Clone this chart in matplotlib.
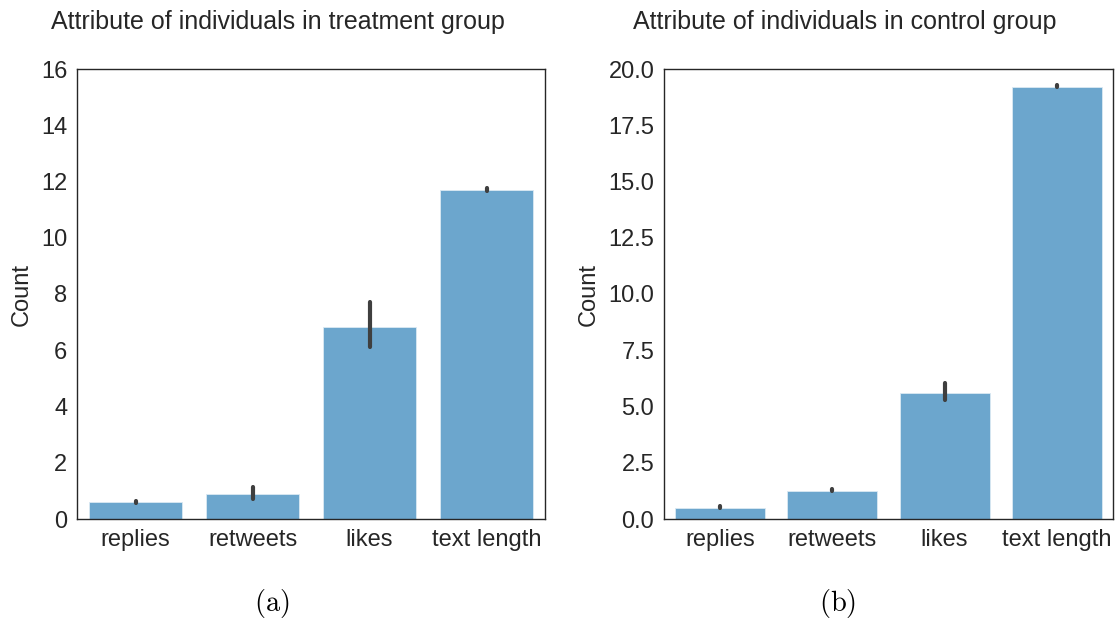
import matplotlib
matplotlib.use("Agg")
import matplotlib.pyplot as plt
import numpy as np

# categories and values
categories = ["replies", "retweets", "likes", "text length"]

treat_mean = [0.59, 0.88, 6.83, 11.70]
treat_lo = [0.57, 0.72, 6.13, 11.68]
treat_hi = [0.65, 1.15, 7.72, 11.76]

ctrl_mean = [0.50, 1.23, 5.60, 19.20]
ctrl_lo = [0.51, 1.24, 5.27, 19.22]
ctrl_hi = [0.58, 1.33, 6.05, 19.29]

treat_ticks = [0, 2, 4, 6, 8, 10, 12, 14, 16]
ctrl_ticks = [0.0, 2.5, 5.0, 7.5, 10.0, 12.5, 15.0, 17.5, 20.0]

plt.rcParams['font.family'] = ['Liberation Sans', 'DejaVu Sans']
plt.rcParams['mathtext.fontset'] = 'cm'
plt.rcParams['text.color'] = '.15'
plt.rcParams['axes.labelcolor'] = '.15'
plt.rcParams['xtick.color'] = '.15'
plt.rcParams['ytick.color'] = '.15'

bar_color = '#6CA6CD'
err_color = '#3f3f3f'

W, H = 1115, 619
fig = plt.figure(figsize=(W / 100, H / 100), dpi=100)
ax1 = fig.add_axes([77 / W, 1 - 519 / H, 468 / W, 450 / H])
ax2 = fig.add_axes([664 / W, 1 - 519 / H, 449 / W, 450 / H])


def draw_panel(ax, means, lo, hi, ticks, title, title_x, caption, cap_x):
    x = np.arange(len(categories))
    ax.bar(x, means, width=0.8, color=bar_color, edgecolor='#dbe9f3', linewidth=0.6)
    for xi, l, h in zip(x, lo, hi):
        ax.plot([xi, xi], [l, h], color=err_color, lw=3.0, solid_capstyle='round')
    ax.set_xlim(-0.5, len(categories) - 0.5)
    ax.set_ylim(ticks[0], ticks[-1])
    ax.set_yticks(ticks)
    if isinstance(ticks[1], float):
        ax.set_yticklabels(["%.1f" % t for t in ticks])
    ax.set_xticks(x)
    ax.set_xticklabels(categories)
    ax.tick_params(axis='both', length=0, labelsize=17, pad=7)
    ax.set_ylabel("Count", fontsize=17)
    for s in ax.spines.values():
        s.set_color('.15')
        s.set_linewidth(1.0)
    # titles and captions sit centred on the whole panel, not on the axes
    fig.text(title_x / W, 1 - 22 / H, title, ha='center', va='center', fontsize=18)
    fig.text(cap_x / W, 1 - 604 / H, caption, ha='center', va='center',
             fontsize=20.5, color='black')


draw_panel(ax1, treat_mean, treat_lo, treat_hi, treat_ticks,
           "Attribute of individuals in treatment group", 278, r"$\mathrm{(a)}$", 272)
draw_panel(ax2, ctrl_mean, ctrl_lo, ctrl_hi, ctrl_ticks,
           "Attribute of individuals in control group", 845, r"$\mathrm{(b)}$", 838)

# pin the y labels to where they sit in the reference
ax1.yaxis.set_label_coords((33 - 77) / 468, 0.5)
ax2.yaxis.set_label_coords((600 - 664) / 449, 0.5)

fig.savefig("out.png", dpi=100)
